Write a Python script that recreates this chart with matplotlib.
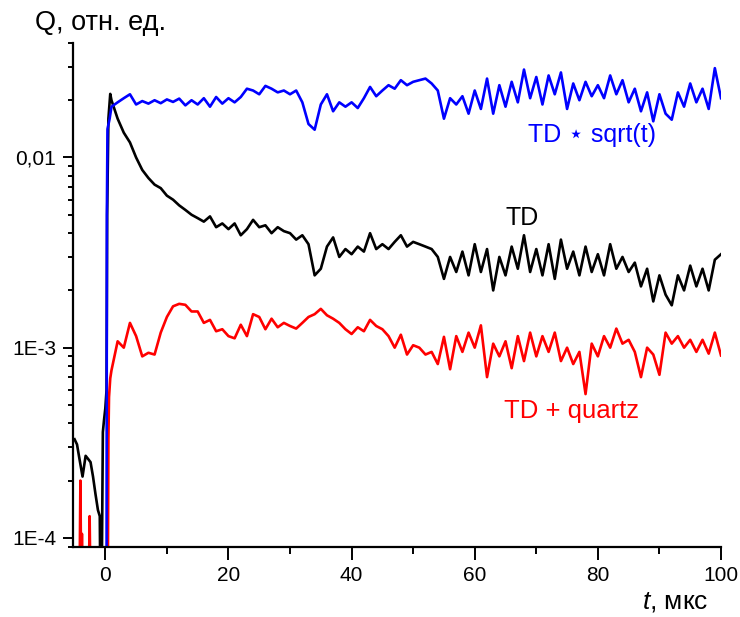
import numpy as np
import matplotlib
matplotlib.use("Agg")
import matplotlib.pyplot as plt
from matplotlib.ticker import FixedLocator, FixedFormatter, LogLocator, NullFormatter, MultipleLocator

plt.rcParams["font.family"] = ["Liberation Sans", "DejaVu Sans"]
plt.rcParams["mathtext.fontset"] = "custom"
plt.rcParams["mathtext.it"] = "Liberation Sans:italic"
plt.rcParams["mathtext.rm"] = "Liberation Sans"

BELOW = 5e-5  # values under the bottom of the axis (clipped)

# regular grid, t = 1..100 us, values in 1e-3 units
t_reg = np.arange(1, 101)

td_sqrt_reg = [
    18.5, 19.5, 20.5, 21.5, 19.0, 19.8, 19.2, 20.0, 19.3, 20.2,
    19.6, 20.4, 18.8, 20.0, 19.0, 20.5, 18.5, 20.8, 19.2, 20.5,
    19.5, 20.8, 23.0, 22.5, 21.5, 23.8, 23.0, 22.0, 22.5, 21.5,
    22.5, 19.5, 15.0, 14.0, 19.0, 21.5, 17.5, 19.5, 18.5, 19.5,
    18.2, 20.5, 23.5, 21.0, 22.5, 24.0, 23.0, 25.5, 24.0, 25.0,
    25.5, 26.0, 24.5, 22.5, 16.0, 20.5, 19.0, 21.0, 17.0, 22.5,
    18.0, 26.0, 17.0, 24.0, 18.5, 25.0, 19.5, 29.0, 20.5, 26.5,
    19.0, 27.0, 21.5, 28.0, 18.0, 24.5, 20.0, 25.0, 21.0, 24.0,
    20.5, 27.0, 21.5, 25.5, 19.5, 23.0, 17.5, 22.0, 15.5, 21.5,
    17.0, 15.8, 22.0, 18.5, 24.5, 19.5, 23.0, 18.0, 29.5, 20.5,
]

td_reg = [
    20.0, 16.0, 13.5, 12.0, 10.0, 8.6, 7.8, 7.2, 6.9, 6.3,
    6.0, 5.6, 5.3, 5.0, 4.8, 4.6, 4.9, 4.3, 4.5, 4.2,
    4.5, 3.9, 4.2, 4.7, 4.3, 4.4, 4.0, 4.3, 4.1, 4.0,
    3.7, 3.9, 3.5, 2.4, 2.6, 3.4, 3.8, 3.0, 3.3, 3.1,
    3.4, 3.2, 4.0, 3.3, 3.5, 3.3, 3.6, 3.9, 3.4, 3.6,
    3.5, 3.4, 3.3, 3.0, 2.3, 3.0, 2.5, 3.2, 2.4, 3.5,
    2.5, 3.3, 2.0, 3.0, 2.4, 3.4, 2.6, 3.9, 2.5, 3.3,
    2.4, 3.5, 2.3, 3.7, 2.6, 3.2, 2.4, 3.4, 2.5, 3.1,
    2.4, 3.5, 2.6, 3.0, 2.5, 2.8, 2.1, 2.6, 1.75, 2.4,
    1.9, 1.67, 2.4, 2.0, 2.7, 2.1, 2.6, 2.0, 2.9, 3.1,
]

quartz_reg = [
    0.76, 1.08, 1.00, 1.35, 1.15, 0.90, 0.94, 0.92, 1.20, 1.45,
    1.65, 1.70, 1.68, 1.55, 1.55, 1.35, 1.40, 1.22, 1.25, 1.15,
    1.12, 1.32, 1.15, 1.50, 1.45, 1.25, 1.42, 1.28, 1.35, 1.30,
    1.26, 1.35, 1.45, 1.50, 1.60, 1.48, 1.42, 1.35, 1.25, 1.18,
    1.28, 1.22, 1.40, 1.30, 1.25, 1.15, 1.00, 1.17, 0.92, 1.03,
    1.00, 0.92, 0.95, 0.82, 1.14, 0.77, 1.15, 0.95, 1.20, 1.00,
    1.31, 0.70, 1.05, 0.90, 1.08, 0.78, 1.15, 0.85, 1.20, 0.90,
    1.15, 0.95, 1.20, 0.85, 1.00, 0.82, 0.95, 0.57, 1.05, 0.90,
    1.15, 1.00, 1.26, 1.05, 1.10, 0.95, 0.70, 1.00, 0.92, 0.72,
    1.20, 1.05, 1.15, 1.00, 1.10, 0.95, 1.10, 0.93, 1.20, 0.91,
]

# early part (t < 1 us), values in absolute units
td_sqrt_t0 = [0.2, 0.25, 0.35, 0.7]
td_sqrt_q0 = [BELOW, 0.005, 0.0141, 0.016]

td_t0 = [-5.0, -4.6, -4.2, -3.7, -3.2, -2.8, -2.4, -2.0, -1.6, -1.2,
         -0.9, -0.8, -0.6, -0.4, -0.2, 0.0, 0.2, 0.3, 0.5, 0.8]
td_q0 = [3.3e-4, 3.1e-4, 2.6e-4, 2.1e-4, 2.7e-4, 2.6e-4, 2.5e-4, 2.1e-4,
         1.7e-4, 1.4e-4, 1.3e-4, BELOW, BELOW, 3.6e-4, 4.2e-4,
         4.8e-4, 6.0e-4, 5.0e-3, 1.6e-2, 2.16e-2]

quartz_t0 = [-5.0, -4.2, -4.05, -3.9, -3.8, -3.7, -2.7, -2.55, -2.4, -2.3,
             0.4, 0.5, 0.6, 0.8]
quartz_q0 = [BELOW, BELOW, 2.0e-4, BELOW, 1.05e-4, BELOW, BELOW, 1.3e-4,
             BELOW, BELOW, BELOW, 3.3e-4, 5.5e-4, 6.9e-4]

series = [
    ("TD", td_t0, td_q0, td_reg, "black"),
    ("TD + quartz", quartz_t0, quartz_q0, quartz_reg, "#ff0000"),
    ("TD * sqrt(t)", td_sqrt_t0, td_sqrt_q0, td_sqrt_reg, "#0000ff"),
]

fig = plt.figure(figsize=(7.4, 6.17), dpi=100)
ax = fig.add_axes([73 / 740, 70 / 617, 648 / 740, 504 / 617])

for name, t0, q0, reg, color in series:
    t = np.concatenate([t0, t_reg])
    q = np.concatenate([q0, np.array(reg) * 1e-3])
    ax.plot(t, q, color=color, lw=1.9)

ax.set_yscale("log")
ax.set_xlim(-5.25, 100)
ax.set_ylim(8.95e-5, 0.04)

ax.yaxis.set_major_locator(FixedLocator([1e-4, 1e-3, 1e-2]))
ax.yaxis.set_major_formatter(FixedFormatter(["1E-4", "1E-3", "0,01"]))
ax.yaxis.set_minor_locator(LogLocator(base=10, subs=range(2, 10)))
ax.yaxis.set_minor_formatter(NullFormatter())
ax.xaxis.set_major_locator(MultipleLocator(20))
ax.xaxis.set_minor_locator(MultipleLocator(10))

for side in ["top", "right"]:
    ax.spines[side].set_visible(False)
for side in ["left", "bottom"]:
    ax.spines[side].set_linewidth(1.6)

ax.tick_params(axis="x", which="major", direction="out", length=9, width=1.4,
               labelsize=15, pad=5)
ax.tick_params(axis="x", which="minor", direction="out", length=5, width=1.4)
ax.tick_params(axis="y", which="major", direction="out", length=7, width=1.4,
               labelsize=15, pad=5)
ax.tick_params(axis="y", which="minor", direction="out", length=3.5, width=1.4)

ax.text(68.7, 0.0120, "TD \u22c6 sqrt(t)", color="#0000ff", fontsize=18,
        va="baseline", family=["Liberation Sans", "DejaVu Sans"])
ax.text(65.0, 0.00442, "TD", color="black", fontsize=18, va="baseline")
ax.text(64.7, 4.25e-4, "TD + quartz", color="#ff0000", fontsize=18.5,
        va="baseline")

fig.text(35 / 740, 1 - 30 / 617, "Q, отн. ед.", fontsize=19.5, va="baseline")
fig.text(642 / 740, 1 - 608 / 617, r"$\mathit{t}$, мкс", fontsize=19,
         va="baseline")

fig.savefig("out.png", dpi=100)
